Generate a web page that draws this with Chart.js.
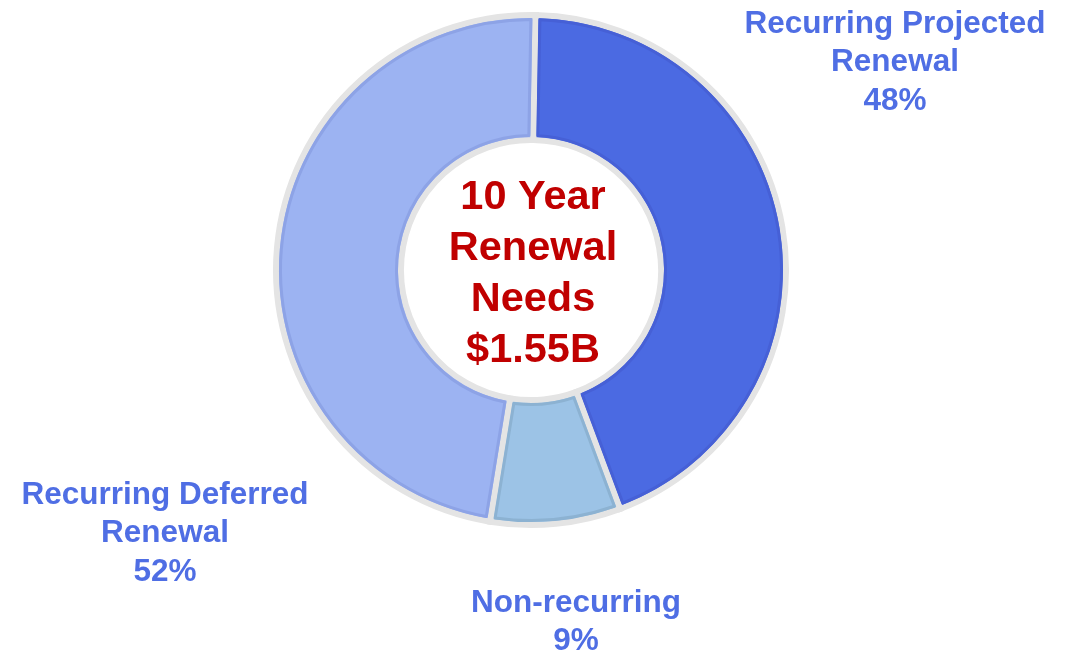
<!DOCTYPE html>
<html>
<head>
<meta charset="utf-8">
<script src="https://cdn.jsdelivr.net/npm/chart.js@4"></script>
<style>
  body { margin: 0; background: #fff; }
  #wrap { width: 1074px; height: 650px; }
</style>
</head>
<body>
<div id="wrap"><canvas id="myChart" width="1074" height="650"></canvas></div>
<script>
const categories = ["Recurring Projected Renewal", "Non-recurring", "Recurring Deferred Renewal"];
const values = [48, 9, 52];
const labelLines = [["Recurring Projected", "Renewal", "48%"], ["Non-recurring", "9%"], ["Recurring Deferred", "Renewal", "52%"]];
const centerLines = ["10 Year", "Renewal", "Needs", "$1.55B"];

const fills = ["#4b6ae2", "#9cc3e6", "#9cb3f2"];
const edges = ["#4660d6", "#8cb2d2", "#8da3e6"];
const sepColor = "#e4e4e4";
const sepWidth = 6;

// offsets of label blocks from the donut centre (dx, dy of first line)
const labelPos = [[364, -246], [45, 333], [-366, 225]];

const innerEdge = {
  id: "innerEdge",
  afterDatasetsDraw(chart) {
    const ctx = chart.ctx;
    const arcs = chart.getDatasetMeta(0).data;
    arcs.forEach((a, i) => {
      const p = a.getProps(["x", "y", "startAngle", "endAngle", "innerRadius", "outerRadius"], true);
      const ins = sepWidth / 2 + 1.5;
      const ro = p.outerRadius - ins, ri = p.innerRadius + ins;
      ctx.save();
      ctx.beginPath();
      ctx.arc(p.x, p.y, ro, p.startAngle + ins / ro, p.endAngle - ins / ro);
      ctx.arc(p.x, p.y, ri, p.endAngle - ins / ri, p.startAngle + ins / ri, true);
      ctx.closePath();
      ctx.strokeStyle = edges[i];
      ctx.lineWidth = 3;
      ctx.lineJoin = "round";
      ctx.stroke();
      ctx.restore();
    });
    const c = arcs[0];
    ctx.save();
    ctx.textAlign = "center";
    ctx.textBaseline = "middle";
    ctx.fillStyle = "#c00000";
    ctx.font = "bold 41.5px 'Liberation Sans', Arial, sans-serif";
    centerLines.forEach((t, k) => ctx.fillText(t, c.x + 2, c.y - 72 + k * 51));
    ctx.fillStyle = "#4f6ee4";
    ctx.font = "bold 31.5px 'Liberation Sans', Arial, sans-serif";
    labelLines.forEach((lines, i) => {
      lines.forEach((t, k) => ctx.fillText(t, c.x + labelPos[i][0], c.y + labelPos[i][1] + k * 38.5));
    });
    ctx.restore();
  }
};

new Chart(document.getElementById("myChart"), {
  type: "doughnut",
  data: {
    labels: categories,
    datasets: [{
      data: values,
      backgroundColor: fills,
      borderColor: sepColor,
      borderWidth: sepWidth,
      borderJoinStyle: "miter"
    }]
  },
  options: {
    responsive: false,
    animation: false,
    cutout: "51%",
    rotation: 1,
    layout: { padding: { left: 273, right: 285, top: 12, bottom: 122 } },
    plugins: { legend: { display: false }, tooltip: { enabled: false } }
  },
  plugins: [innerEdge]
});
</script>
</body>
</html>
